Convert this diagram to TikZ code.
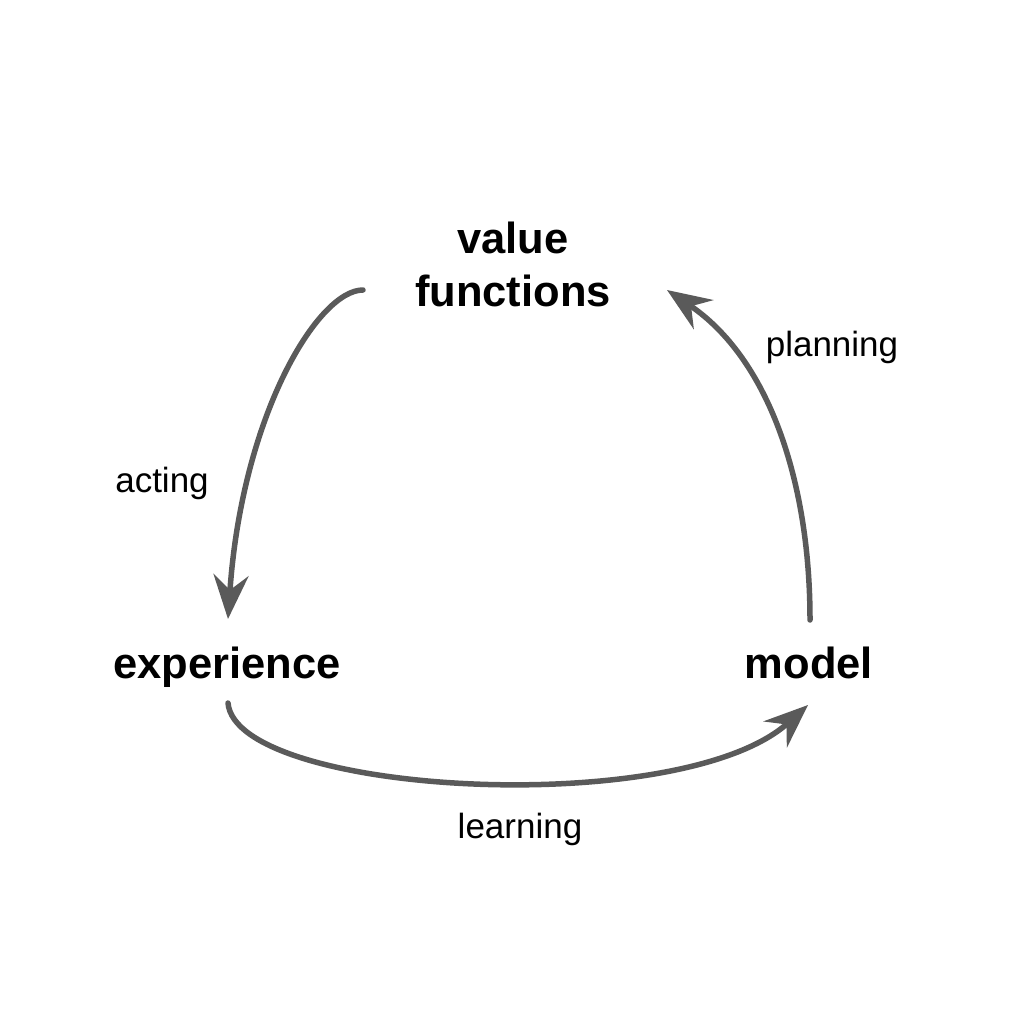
\documentclass[tikz,border=0pt]{standalone}
\usepackage{fontspec}
\setmainfont{Liberation Sans}
\usetikzlibrary{arrows.meta}
\definecolor{arrowgray}{HTML}{5A5A5A}
\tikzset{
  bigword/.style={font=\fontsize{43.5}{53}\selectfont\bfseries, inner sep=0pt, align=center},
  smallword/.style={font=\fontsize{35}{42}\selectfont, inner sep=0pt, anchor=base},
  flow/.style={draw=arrowgray, line width=5.5pt, line cap=round,
    -{Stealth[length=44pt, width=35pt, inset=15pt, fill=arrowgray]}}
}
\begin{document}
\begin{tikzpicture}[x=1pt,y=-1pt]
\useasboundingbox (0,0) rectangle (1024,1024);
\node[bigword] (vf) at (513,264) {value\\functions};
\node[bigword, anchor=base] (exp) at (227,678) {experience};
\node[bigword, anchor=base] (mod) at (809,678) {model};
\node[smallword] (act) at (162,492) {acting};
\node[smallword] (plan) at (832,356) {planning};
\node[smallword] (learn) at (520,838) {learning};
\coordinate (a0) at (363,290);
\coordinate (a1) at (228,619);
\coordinate (p0) at (810,620);
\coordinate (p1) at (667,290);
\coordinate (l0) at (228,703);
\coordinate (l1) at (808,705);
\draw[flow] (a0) .. controls (318,290) and (242,415) .. (a1);
\draw[flow] (p0) .. controls (810,480) and (768,358) .. (p1);
\draw[flow] (l0) .. controls (236,795) and (680,820) .. (l1);
\end{tikzpicture}
\end{document}
